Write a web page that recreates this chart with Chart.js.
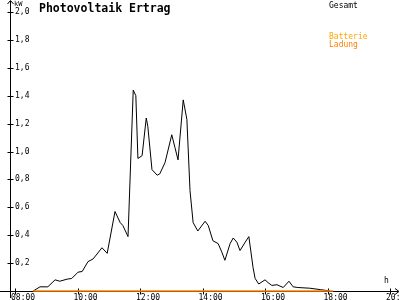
<!DOCTYPE html>
<html>
<head>
<meta charset="utf-8">
<script src="https://cdn.jsdelivr.net/npm/chart.js@4/dist/chart.umd.min.js"></script>
<style>
  html, body { margin: 0; padding: 0; background: #fff; }
  canvas { display: block; }
</style>
</head>
<body>
<canvas id="pv" width="400" height="300"></canvas>
<script>
// Messzeiten und Werte (kW)
const zeiten = ['08:35','08:48','09:03','09:17','09:26','09:40','09:49','10:01','10:09','10:20',
  '10:30','10:47','10:57','11:12','11:22','11:27','11:37','11:47','11:52','11:56',
  '12:04','12:12','12:15','12:23','12:33','12:38','12:48','13:01','13:07','13:13',
  '13:23','13:30','13:36','13:42','13:51','14:05','14:11','14:20','14:30','14:37',
  '14:43','14:53','14:59','15:06','15:12','15:22','15:29','15:37','15:41','15:48',
  '16:00','16:06','16:13','16:23','16:35','16:46','16:54','17:03','17:26','17:46','18:05'];
const gesamt = [0, 0.03, 0.03, 0.08, 0.07, 0.085, 0.09, 0.135, 0.14, 0.21,
  0.23, 0.31, 0.27, 0.57, 0.49, 0.47, 0.39, 1.44, 1.40, 0.95,
  0.97, 1.24, 1.18, 0.87, 0.83, 0.84, 0.92, 1.12, 1.03, 0.94,
  1.37, 1.23, 0.72, 0.49, 0.43, 0.50, 0.47, 0.36, 0.34, 0.28,
  0.22, 0.34, 0.38, 0.35, 0.29, 0.35, 0.39, 0.17, 0.09, 0.05,
  0.08, 0.06, 0.04, 0.045, 0.025, 0.07, 0.03, 0.025, 0.02, 0.01, 0];

const ladungZeiten = ['08:35', '18:11'];
const ladung = [0, 0];
const batterie = [];

const xTicks = [8, 10, 12, 14, 16, 18, 20];
const yTicks = [0.2, 0.4, 0.6, 0.8, 1.0, 1.2, 1.4, 1.6, 1.8, 2.0];

function inStunden(t) {
  const [h, m] = t.split(':').map(Number);
  return h + m / 60;
}

const FONT = '"DejaVu Sans Mono", monospace';

// Achsen, Pfeile und Beschriftung selbst zeichnen
const achsenPlugin = {
  id: 'achsen',
  beforeDatasetsDraw(chart) {
    const ctx = chart.ctx;
    const xs = chart.scales.x, ys = chart.scales.y;
    const y0 = Math.round(ys.getPixelForValue(0)) + 0.5;
    const ax = 10.5;
    ctx.save();
    ctx.strokeStyle = '#000';
    ctx.fillStyle = '#000';
    ctx.lineWidth = 1;
    ctx.beginPath();
    ctx.moveTo(0, y0); ctx.lineTo(398, y0);
    ctx.moveTo(ax, 298); ctx.lineTo(ax, 1);
    // Pfeile
    ctx.moveTo(395, y0 - 3); ctx.lineTo(399, y0); ctx.lineTo(395, y0 + 3);
    ctx.moveTo(ax - 3, 4); ctx.lineTo(ax, 0.5); ctx.lineTo(ax + 3, 4);
    // Striche
    xTicks.forEach(v => {
      const px = Math.round(xs.getPixelForValue(v)) + 0.5;
      ctx.moveTo(px, y0 - 3); ctx.lineTo(px, y0 + 3);
    });
    yTicks.forEach(v => {
      const py = Math.round(ys.getPixelForValue(v)) + 0.5;
      ctx.moveTo(ax - 3, py); ctx.lineTo(ax + 3, py);
    });
    ctx.stroke();

    ctx.font = '8px ' + FONT;
    ctx.textAlign = 'left';
    ctx.textBaseline = 'top';
    xTicks.forEach(v => {
      const px = xs.getPixelForValue(v);
      const txt = String(v).padStart(2, '0') + ':00';
      ctx.fillText(txt, px - 4, 294);
    });
    ctx.textBaseline = 'middle';
    yTicks.forEach(v => {
      const py = ys.getPixelForValue(v);
      ctx.fillText(v.toFixed(1).replace('.', ','), 15, py);
    });
    ctx.font = '7px ' + FONT;
    ctx.fillText('kW', 14, 4);
    ctx.font = '8px ' + FONT;
    ctx.fillText('h', 384, 281);
    ctx.restore();
  },
  afterDraw(chart) {
    const ctx = chart.ctx;
    ctx.save();
    ctx.textAlign = 'left';
    ctx.textBaseline = 'alphabetic';
    ctx.fillStyle = '#000';
    ctx.font = 'bold 11.5px ' + FONT;
    ctx.fillText('Photovoltaik Ertrag', 39, 12);
    // Legende
    ctx.font = '8px ' + FONT;
    const pos = { Gesamt: 8, Batterie: 39, Ladung: 47 };
    chart.data.datasets.forEach(ds => {
      ctx.fillStyle = ds.borderColor;
      ctx.fillText(ds.label, 329, pos[ds.label]);
    });
    ctx.restore();
  }
};

new Chart(document.getElementById('pv'), {
  type: 'line',
  data: {
    datasets: [
      {
        label: 'Gesamt',
        data: zeiten.map((t, i) => ({ x: inStunden(t), y: gesamt[i] })),
        borderColor: '#000000',
        borderWidth: 1,
        pointRadius: 0,
        tension: 0,
        order: 2
      },
      {
        label: 'Batterie',
        data: batterie,
        borderColor: '#ffa500',
        borderWidth: 1,
        pointRadius: 0,
        order: 1
      },
      {
        label: 'Ladung',
        data: ladungZeiten.map((t, i) => ({ x: inStunden(t), y: ladung[i] })),
        borderColor: '#ff8000',
        borderWidth: 1.5,
        pointRadius: 0,
        order: 0,
        clip: false
      }
    ]
  },
  options: {
    responsive: false,
    animation: false,
    layout: { padding: { left: 15, right: 10, top: 12, bottom: 9 } },
    scales: {
      x: { type: 'linear', min: 8, max: 20, display: false },
      y: { min: 0, max: 2, display: false }
    },
    plugins: {
      legend: { display: false },
      tooltip: { enabled: false }
    }
  },
  plugins: [achsenPlugin]
});
</script>
</body>
</html>
